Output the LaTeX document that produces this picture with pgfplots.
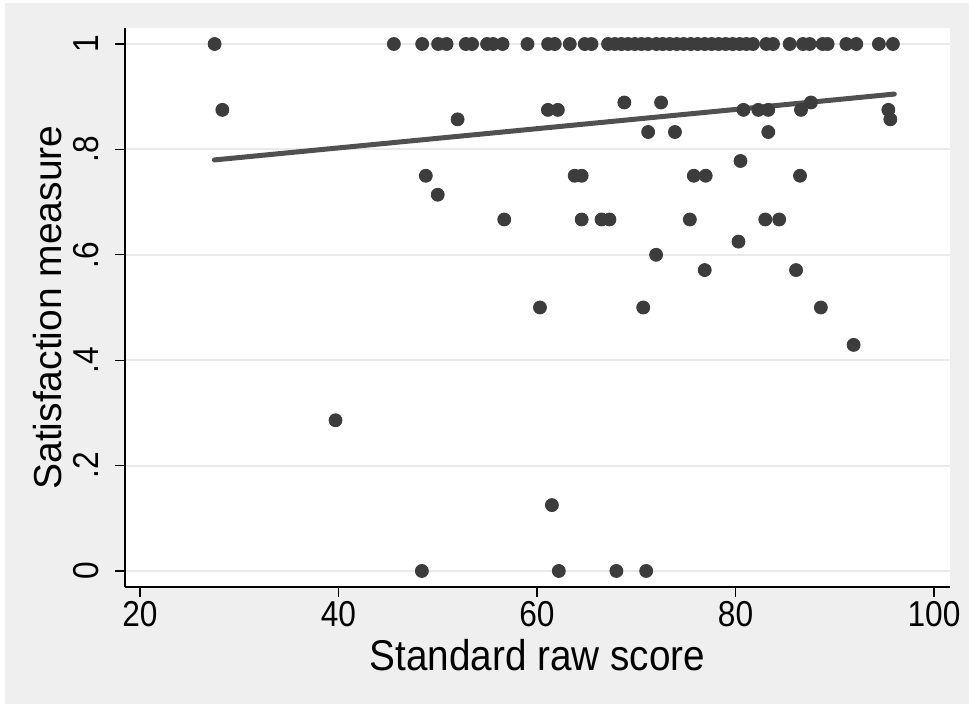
\documentclass[border=0pt]{standalone}
\usepackage{fontspec}
\setmainfont{Liberation Sans}
\newfontfamily\tickfont{Liberation Sans}[FakeStretch=0.88]
\newfontfamily\titlefont{Liberation Sans}[FakeStretch=0.9]
\usepackage{pgfplots}
\pgfplotsset{compat=1.18}
\definecolor{bggray}{RGB}{239,239,239}
\definecolor{gridgray}{RGB}{234,234,234}
\definecolor{dotgray}{RGB}{60,60,60}
\definecolor{linegray}{RGB}{80,80,80}
\begin{document}
\begin{tikzpicture}
\useasboundingbox (-62.5pt,-58.5pt) rectangle (422pt,293.5pt);
\fill[white] (-62.5pt,-58.5pt) rectangle (422pt,293.5pt);
\fill[bggray] (-60pt,-58.5pt) rectangle (422pt,292pt);
\begin{axis}[
  at={(0,0)}, anchor=south west,
  scale only axis, width=412.5pt, height=279.5pt,
  xmin=18.49, xmax=101.61, ymin=-0.0304, ymax=1.0304,
  axis background/.style={fill=white},
  axis x line*=bottom, axis y line*=left,
  axis line style={black, line width=0.6pt, -},
  xtick={20,40,60,80,100},
  ytick={0,0.2,0.4,0.6,0.8,1},
  yticklabels={0,.2,.4,.6,.8,1},
  tick align=outside, major tick length=5pt,
  tick style={black, line width=0.6pt},
  ymajorgrids, major grid style={gridgray, line width=1pt},
  /pgf/number format/assume math mode=true,
  ticklabel style={font=\tickfont\fontsize{18}{18}\selectfont},
  yticklabel style={rotate=90, anchor=base, inner sep=0pt},
  xticklabel style={anchor=north, inner sep=0pt},
  yticklabel shift=8pt,
  xticklabel shift=2pt,
  xlabel={Standard raw score},
  ylabel={Satisfaction measure},
  xlabel style={font=\titlefont\fontsize{21.5}{21.5}\selectfont, at={(axis description cs:0.5,-0.1485)}, anchor=base},
  ylabel style={font=\fontsize{19.5}{19.5}\selectfont, at={(axis description cs:-0.077,0.5)}, anchor=base, rotate=0},
  clip=false,
]
\addplot[only marks, mark=*, mark size=3.25pt, color=dotgray] coordinates {
(27.52,1) (45.58,1) (48.43,1) (50.04,1) (50.89,1) (52.83,1) (53.46,1) (54.97,1)
(55.58,1) (56.53,1) (59.04,1) (61.12,1) (61.79,1) (63.30,1) (64.81,1) (65.49,1)
(67.16,1) (67.84,1) (68.51,1) (69.17,1) (69.85,1) (70.52,1) (71.19,1) (72.03,1)
(72.67,1) (73.37,1) (74.08,1) (74.78,1) (75.49,1) (76.19,1) (76.90,1) (77.60,1)
(78.31,1) (79.01,1) (79.72,1) (80.42,1) (81.10,1) (81.76,1) (83.11,1) (83.78,1)
(85.46,1) (86.80,1) (87.47,1) (88.78,1) (89.28,1) (91.17,1) (92.17,1) (94.45,1)
(95.86,1)
(28.3,0.875) (52.0,0.857) (61.1,0.875) (62.1,0.875) (68.8,0.889) (72.5,0.889)
(71.2,0.833) (73.9,0.833) (80.8,0.875) (82.3,0.875) (83.3,0.875) (83.3,0.833)
(86.6,0.875) (87.6,0.889) (95.4,0.875) (95.6,0.857) (80.5,0.778)
(48.8,0.75) (50.0,0.714) (56.7,0.667) (63.8,0.75) (64.5,0.75) (64.5,0.667)
(66.5,0.667) (67.3,0.667) (75.4,0.667) (75.8,0.75) (77.0,0.75) (86.5,0.75)
(83.0,0.667) (84.4,0.667) (80.3,0.625) (72.0,0.6) (76.9,0.571) (86.1,0.571)
(60.3,0.5) (70.7,0.5) (88.6,0.5) (91.9,0.429) (39.7,0.286) (61.5,0.125)
(48.4,0) (62.2,0) (68.0,0) (71.0,0)
};
\addplot[linegray, line width=2.5pt, line cap=round] coordinates {(27.5,0.780) (96.0,0.905)};
\end{axis}
\end{tikzpicture}
\end{document}
